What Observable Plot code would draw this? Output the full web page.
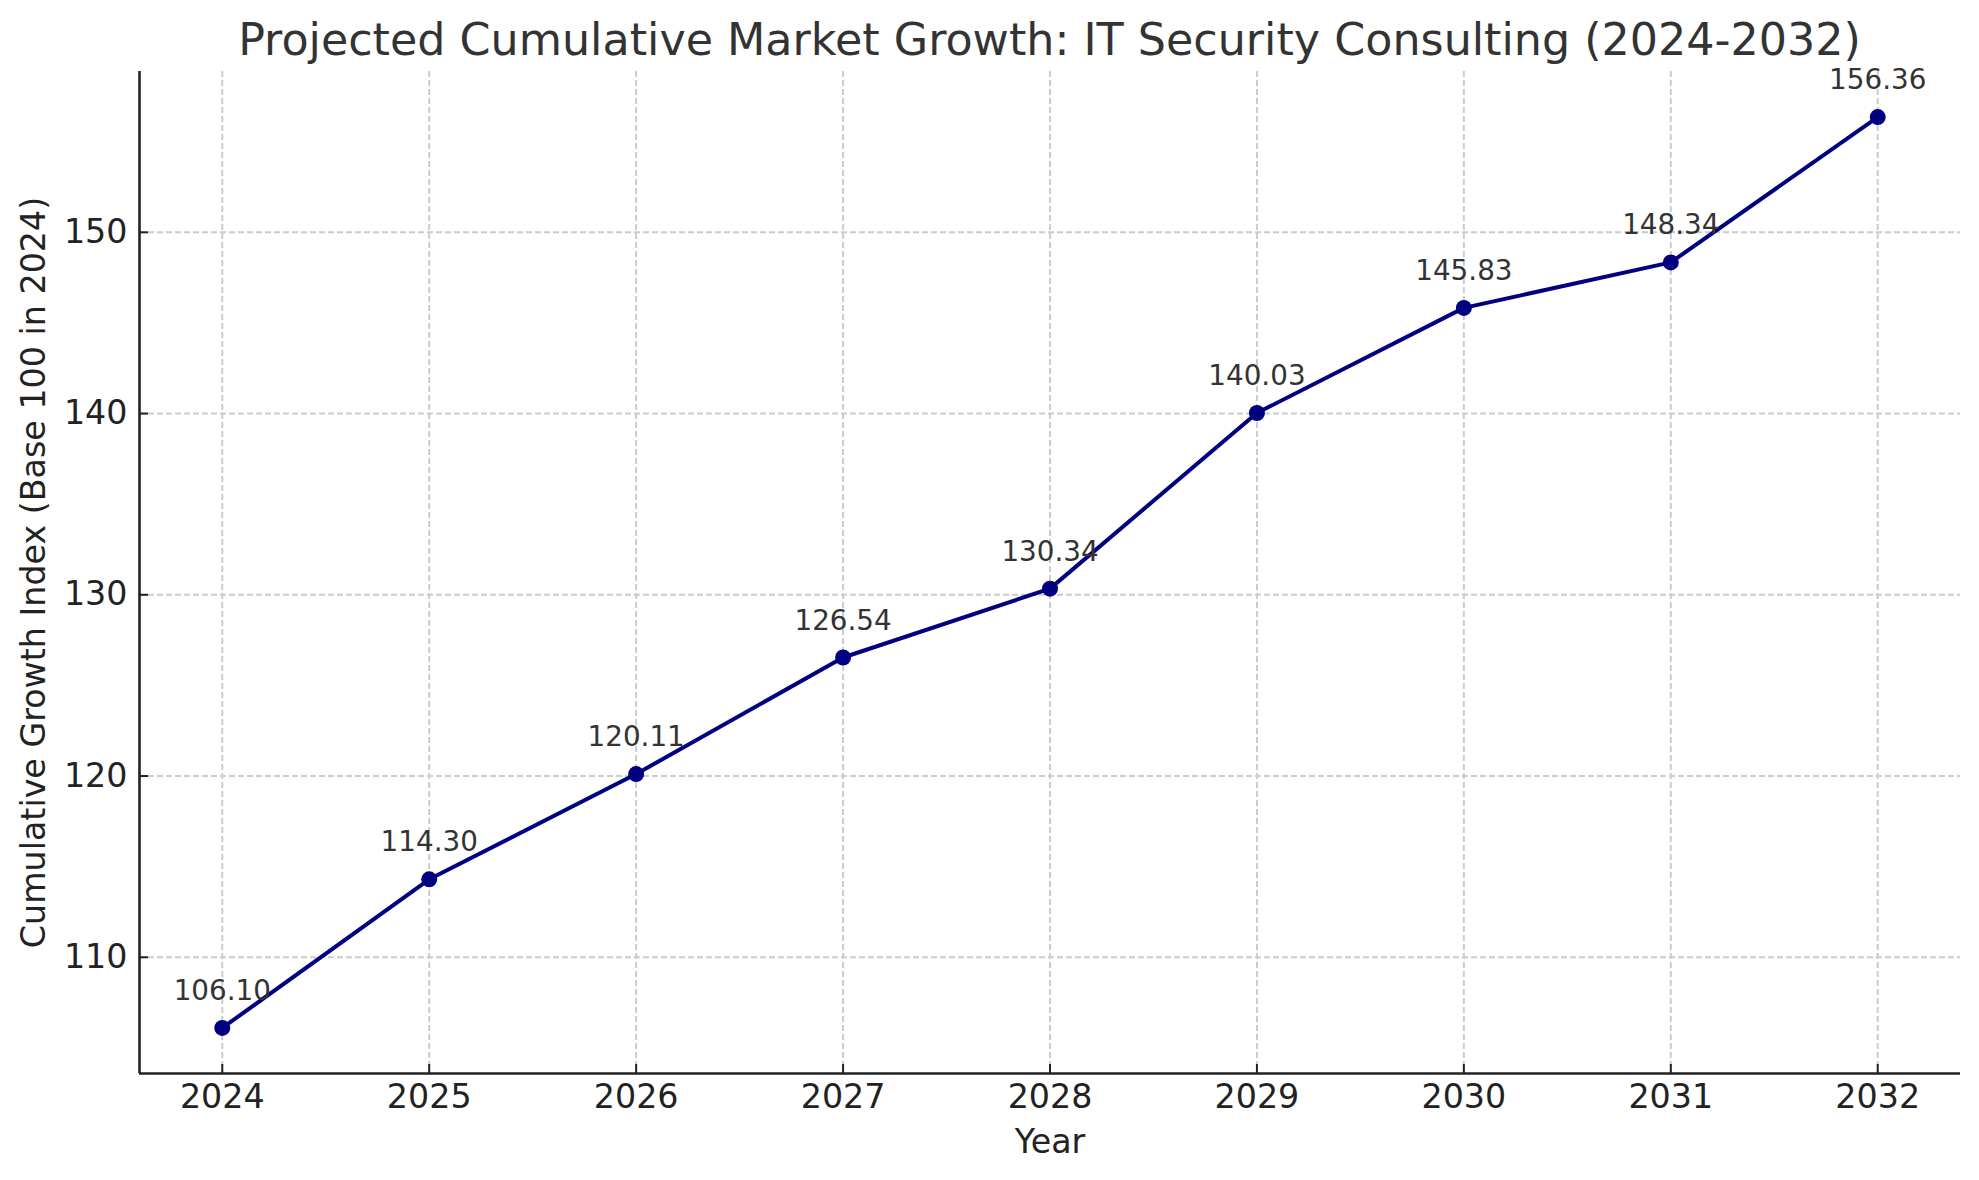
<!DOCTYPE html>
<html><head><meta charset="utf-8">
<script src="https://cdn.jsdelivr.net/npm/d3@7"></script>
<script src="https://cdn.jsdelivr.net/npm/@observablehq/plot@0.6"></script>
<style>
body{margin:0;background:#fff;font-family:"DejaVu Sans",sans-serif;}
#title{box-sizing:border-box;width:1979px;height:64px;padding-top:15px;padding-left:120px;font-size:44.4px;line-height:50px;text-align:center;color:#333;white-space:nowrap;}
svg{overflow:visible;}
</style></head><body>
<div id="title">Projected Cumulative Market Growth: IT Security Consulting (2024-2032)</div>
<div id="chart"></div>
<script>
const years = [2024, 2025, 2026, 2027, 2028, 2029, 2030, 2031, 2032];
const values = [106.10, 114.30, 120.11, 126.54, 130.34, 140.03, 145.83, 148.34, 156.36];
const yTicks = [110, 120, 130, 140, 150];
const xLabel = "Year";
const yLabel = "Cumulative Growth Index (Base 100 in 2024)";

const data = years.map((year, i) => ({year, value: values[i]}));

// matplotlib-style 5% margins
const [x0, x1] = d3.extent(years);
const [y0, y1] = d3.extent(values);
const xPad = (x1 - x0) * 0.05, yPad = (y1 - y0) * 0.05;
const xDomain = [x0 - xPad, x1 + xPad];
const yDomain = [y0 - yPad, y1 + yPad];

const axisColor = "#222";
const gridStyle = {stroke: "#cccccc", strokeOpacity: 1, strokeWidth: 2, strokeDasharray: "6,3"};

const chart = Plot.plot({
  width: 1979,
  height: 1116,
  marginTop: 7,
  marginBottom: 107,
  marginLeft: 139,
  marginRight: 19,
  style: {fontFamily: "DejaVu Sans, sans-serif", background: "#fff", overflow: "visible"},
  x: {domain: xDomain, label: null},
  y: {domain: yDomain, label: null},
  marks: [
    Plot.gridX(years, gridStyle),
    Plot.gridY(yTicks, gridStyle),
    Plot.axisX(years, {tickSize: -9, tickFormat: () => "", stroke: axisColor, strokeWidth: 2, label: null}),
    Plot.axisX(years, {tickSize: 0, tickPadding: 11, tickFormat: d => String(d), fontSize: 33.3, fill: axisColor, label: null}),
    Plot.axisY(yTicks, {tickSize: -9, tickFormat: () => "", stroke: axisColor, strokeWidth: 2, label: null}),
    Plot.axisY(yTicks, {tickSize: 0, tickPadding: 12, tickFormat: d => String(d), fontSize: 33.3, fill: axisColor, label: null}),
    Plot.ruleY([yDomain[0]], {stroke: axisColor, strokeWidth: 2.6}),
    Plot.ruleX([xDomain[0]], {stroke: axisColor, strokeWidth: 2.6}),
    Plot.text([xLabel], {frameAnchor: "bottom", dy: 79, lineAnchor: "bottom", fontSize: 33.3, fill: axisColor}),
    Plot.text([yLabel], {frameAnchor: "left", textAnchor: "middle", dx: -105, rotate: -90, lineAnchor: "middle", fontSize: 33.3, fill: axisColor}),
    Plot.line(data, {x: "year", y: "value", stroke: "#000080", strokeWidth: 4}),
    Plot.dot(data, {x: "year", y: "value", r: 8, fill: "#000080", stroke: "none"}),
    Plot.text(data, {x: "year", y: "value", text: d => d.value.toFixed(2), dy: -28, lineAnchor: "bottom", fontSize: 27.8, fill: "#333"})
  ]
});
document.getElementById("chart").appendChild(chart);
</script>
</body></html>
